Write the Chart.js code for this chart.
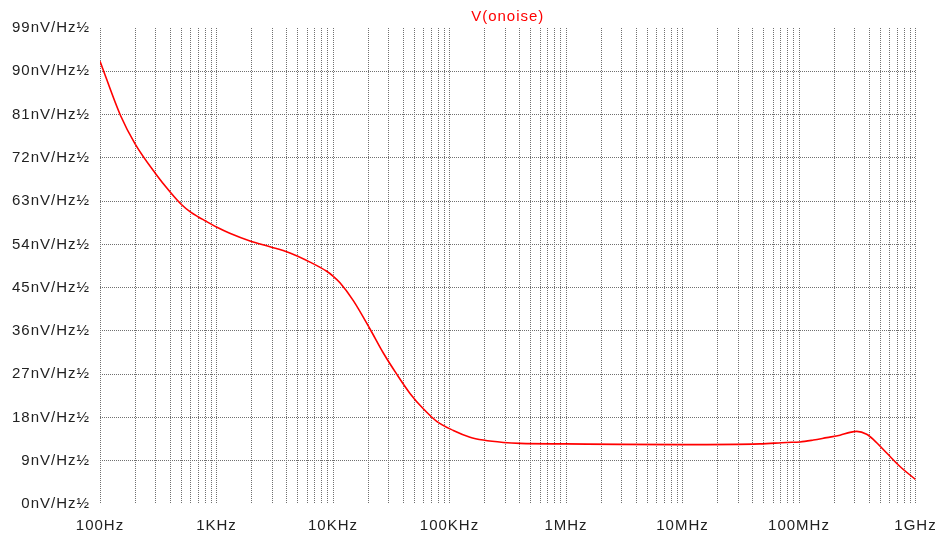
<!DOCTYPE html>
<html>
<head>
<meta charset="utf-8">
<script src="https://cdn.jsdelivr.net/npm/chart.js@4/dist/chart.umd.min.js"></script>
<style>
html,body{margin:0;padding:0;background:#fff;}
#wrap{width:938px;height:534px;position:relative;}
</style>
</head>
<body>
<div id="wrap"><canvas id="c"></canvas></div>
<script>
// Frequencies (Hz) and noise values (nV/Hz½)
const freqs = [100,150,200,300,400,500,600,700,800,900,1000,1300,1940,2880,4275,6350,8830,10000,11480,14940,20780,27040,35240,45800,59600,77600,107900,150000,195000,290000,403000,1e6,3e6,1e7,4.6e7,7.8e7,1.02e8,1.33e8,1.73e8,2.25e8,2.74e8,3.13e8,3.81e8,4.4e8,5.66e8,7.36e8,1e9];
const onoise = [92.1,80.8,74.9,68.7,64.9,62.3,60.7,59.7,58.9,58.2,57.6,56.3,54.7,53.5,52.2,50.3,48.4,47.4,46.0,42.3,36.4,31.4,27.0,23.0,19.8,17.2,15.3,13.9,13.3,12.8,12.6,12.5,12.4,12.35,12.5,12.8,12.9,13.3,13.8,14.3,14.9,15.1,14.5,13.3,10.6,7.8,5.1];
const xDecades = [100,1e3,1e4,1e5,1e6,1e7,1e8,1e9];
const xTickLabels = ['100Hz','1KHz','10KHz','100KHz','1MHz','10MHz','100MHz','1GHz'];
const yTicks = [0,9,18,27,36,45,54,63,72,81,90,99];
const yTickLabels = ['0nV/Hz½','9nV/Hz½','18nV/Hz½','27nV/Hz½','36nV/Hz½','45nV/Hz½','54nV/Hz½','63nV/Hz½','72nV/Hz½','81nV/Hz½','90nV/Hz½','99nV/Hz½'];
const seriesName = 'V(onoise)';

// grid positions: 1..9 x each decade
const xGrid = [];
for (let i = 0; i < xDecades.length; i++) {
  if (i === xDecades.length - 1) { xGrid.push(xDecades[i]); break; }
  for (let m = 1; m <= 9; m++) xGrid.push(xDecades[i] * m);
}

const spacing = {
  id: 'spacing',
  beforeLayout(chart){ chart.ctx.letterSpacing = '1px'; },
  beforeDraw(chart){ chart.ctx.letterSpacing = '1px'; }
};

const font15 = { family: 'Liberation Sans, Arial, sans-serif', size: 15 };
const gridColor = '#707070';

new Chart(document.getElementById('c'), {
  type: 'line',
  data: {
    datasets: [{
      label: seriesName,
      data: freqs.map((f, i) => ({x: f, y: onoise[i]})),
      borderColor: '#ff0000',
      borderWidth: 1.6,
      pointRadius: 0,
      fill: false,
      cubicInterpolationMode: 'monotone'
    }]
  },
  options: {
    responsive: true,
    maintainAspectRatio: false,
    animation: false,
    layout: { padding: { left: 0, right: 0, top: 0, bottom: 0 } },
    plugins: {
      legend: { display: false },
      tooltip: { enabled: false },
      title: {
        display: true,
        text: seriesName,
        color: '#ff0000',
        fullSize: false,
        font: { family: 'Liberation Sans, Arial, sans-serif', size: 15, weight: 'normal' },
        padding: { top: 8, bottom: 2 }
      }
    },
    scales: {
      x: {
        type: 'logarithmic',
        min: 100,
        max: 1e9,
        border: { display: false, dash: [1, 1] },
        afterBuildTicks: s => { s.ticks = xGrid.map(v => ({ value: v })); },
        afterFit: s => { s.height = 30; s.paddingRight = 22.5; s.paddingLeft = 0; },
        grid: { color: gridColor, lineWidth: 1, drawTicks: false },
        ticks: {
          autoSkip: false,
          maxRotation: 0,
          minRotation: 0,
          padding: 13,
          color: '#222',
          font: font15,
          callback: (v) => { const k = xDecades.indexOf(v); return k >= 0 ? xTickLabels[k] : ''; }
        }
      },
      y: {
        type: 'linear',
        min: 0,
        max: 99,
        border: { display: false, dash: [1, 1] },
        afterBuildTicks: s => { s.ticks = yTicks.map(v => ({ value: v })); },
        afterFit: s => { s.width = 100; },
        grid: {
          color: (ctx) => (ctx.tick && (ctx.tick.value === 0 || ctx.tick.value === 99)) ? 'rgba(0,0,0,0)' : gridColor,
          lineWidth: 1,
          drawTicks: false
        },
        ticks: {
          autoSkip: false,
          padding: 10,
          color: '#222',
          font: font15,
          callback: (v) => { const k = yTicks.indexOf(v); return k >= 0 ? yTickLabels[k] : ''; }
        }
      }
    }
  },
  plugins: [spacing]
});
</script>
</body>
</html>
